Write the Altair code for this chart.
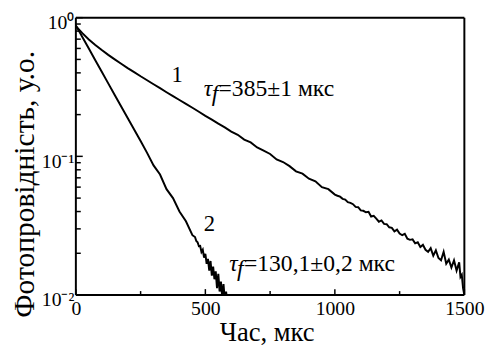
import altair as alt
import pandas as pd

# Curve 1 (tau_f = 385 us)
t1 = [0, 25, 50, 75, 100, 125, 150, 175, 200, 225, 250, 275, 300, 325, 350, 375, 400, 425, 450, 475,
      500, 525, 550, 575, 600, 625, 650, 675, 700, 725, 750, 775, 800, 825, 850, 875, 900, 925, 950, 975, 1000,
      1010, 1020, 1030, 1040, 1050, 1060, 1070, 1080, 1090, 1100, 1110, 1120, 1130, 1140, 1150, 1160, 1170,
      1180, 1190, 1200, 1210, 1220, 1230, 1240, 1250, 1260, 1270, 1280, 1290, 1300, 1310, 1320, 1330, 1340,
      1350, 1360, 1370, 1380, 1390, 1400, 1410, 1420, 1430, 1440, 1450, 1460, 1470, 1480, 1485, 1490, 1495, 1500]
v1 = [0.87, 0.774, 0.697, 0.636, 0.584, 0.539, 0.500, 0.465, 0.433, 0.405, 0.378, 0.354, 0.331, 0.310,
      0.290, 0.272, 0.255, 0.239, 0.224, 0.2097, 0.196, 0.184, 0.172, 0.1617, 0.151, 0.143, 0.132, 0.126,
      0.116, 0.110, 0.104, 0.095, 0.091, 0.085, 0.078, 0.075, 0.069, 0.066, 0.060, 0.058, 0.053,
      0.0520, 0.0512, 0.0494, 0.0488, 0.0468, 0.0462, 0.0452, 0.0432, 0.0430, 0.0408, 0.0405, 0.0395,
      0.0398, 0.0368, 0.0372, 0.0356, 0.0338, 0.0345, 0.0326, 0.0324, 0.0308, 0.0305, 0.0288, 0.0296,
      0.0278, 0.0270, 0.0276, 0.0255, 0.0250, 0.0252, 0.0236, 0.0240, 0.0222, 0.0230, 0.0212, 0.0205,
      0.0218, 0.0192, 0.0210, 0.0185, 0.0178, 0.0205, 0.0168, 0.0180, 0.0158, 0.0178, 0.0150, 0.0172,
      0.0135, 0.0140, 0.0112, 0.0100]

# Curve 2 (tau_f = 130.1 us)
t2 = [0, 25, 50, 75, 100, 125, 150, 175, 200, 225, 250, 275, 300, 325, 350, 375, 400, 425, 450,
      460, 465, 470, 475, 480, 485, 490, 495, 500, 505, 510, 515, 520, 525, 530, 535, 540, 545, 550,
      555, 560, 565, 570, 575, 580, 585, 590, 595, 600]
v2 = [0.88, 0.726, 0.599, 0.494, 0.408, 0.336, 0.277, 0.229, 0.189, 0.156, 0.129, 0.106, 0.086, 0.074,
      0.058, 0.050, 0.040, 0.034, 0.027,
      0.0262, 0.0245, 0.0240, 0.0225, 0.0226, 0.0204, 0.0212, 0.0186, 0.0198, 0.0168, 0.0182, 0.0150,
      0.0176, 0.0138, 0.0160, 0.0130, 0.0148, 0.0112, 0.0142, 0.0106, 0.0125, 0.0097, 0.0120, 0.0092,
      0.0106, 0.0088, 0.0095, 0.0085, 0.0080]

y_major = [0.01, 0.1, 1]
y_minor = [0.02, 0.03, 0.04, 0.05, 0.06, 0.07, 0.08, 0.09, 0.2, 0.3, 0.4, 0.5, 0.6, 0.7, 0.8, 0.9]
x_major = [0, 500, 1000, 1500]
x_minor = [250, 750, 1250]

curve_names = ["1", "2"]
curve_name_t = [391, 516]
curve_name_v = [0.385, 0.0324]
tau_text = ["=385±1 мкс", "=130,1±0,2 мкс"]
tau_t = [494, 592]
tau_v = [0.271, 0.0150]

W, H = 395, 282
FONT = "Liberation Serif"

df = pd.concat([
    pd.DataFrame({"t": t1, "v": v1, "s": "1"}),
    pd.DataFrame({"t": t2, "v": v2, "s": "2"}),
])

xs = alt.Scale(domain=[0, 1500], nice=False)
ys = alt.Scale(type="log", domain=[0.01, 1], nice=False)

x_axis = alt.Axis(values=x_major, format="d", ticks=False, domain=False, grid=False, labelFont=FONT,
                  labelFontSize=20, labelColor="black", labelPadding=4, labelFlush=False,
                  title="Час, мкс", titleFont=FONT, titleFontSize=27, titleFontWeight="normal",
                  titleColor="black", titleX=194, titleY=46, titleAnchor="middle",
                  titleAlign="center", titleBaseline="alphabetic")
y_axis = alt.Axis(values=y_major, ticks=False, domain=False, grid=False, labelFont=FONT,
                  labelFontSize=20, labelColor="black", labelPadding=2, labelOffset=5,
                  labelExpr="datum.value >= 0.5 ? '10⁰' : datum.value >= 0.05 ? '10⁻¹' : '10⁻²'",
                  title="Фотопровідність, у.о.", titleFont=FONT, titleFontSize=30,
                  titleFontWeight="normal", titleColor="black", titleX=-52, titleY=169,
                  titleAngle=270, titleBaseline="middle", titleAlign="center")

lines = alt.Chart(df).mark_line(color="black", strokeWidth=2, clip=True).encode(
    x=alt.X("t:Q", scale=xs, axis=x_axis),
    y=alt.Y("v:Q", scale=ys, axis=y_axis),
    detail="s:N",
)

one = pd.DataFrame({"a": [0]})
frame = alt.layer(
    alt.Chart(one).mark_rule(color="black", strokeWidth=2).encode(x=alt.value(0), x2=alt.value(W), y=alt.value(0)),
    alt.Chart(one).mark_rule(color="black", strokeWidth=2).encode(x=alt.value(0), x2=alt.value(W), y=alt.value(H)),
    alt.Chart(one).mark_rule(color="black", strokeWidth=2).encode(x=alt.value(0), y=alt.value(0), y2=alt.value(H)),
    alt.Chart(one).mark_rule(color="black", strokeWidth=2).encode(x=alt.value(W), y=alt.value(0), y2=alt.value(H)),
)

ymaj = alt.Chart(pd.DataFrame({"v": y_major})).mark_rule(color="black", strokeWidth=1.5).encode(
    y=alt.Y("v:Q", scale=ys), x=alt.value(0), x2=alt.value(7))
ymin = alt.Chart(pd.DataFrame({"v": y_minor})).mark_rule(color="black", strokeWidth=1.5).encode(
    y=alt.Y("v:Q", scale=ys), x=alt.value(0), x2=alt.value(5))
xmaj = alt.Chart(pd.DataFrame({"t": x_major})).mark_rule(color="black", strokeWidth=1.5).encode(
    x=alt.X("t:Q", scale=xs), y=alt.value(H), y2=alt.value(H - 6))
xmin = alt.Chart(pd.DataFrame({"t": x_minor})).mark_rule(color="black", strokeWidth=1.5).encode(
    x=alt.X("t:Q", scale=xs), y=alt.value(H), y2=alt.value(H - 4))

num_labels = alt.Chart(pd.DataFrame({"t": curve_name_t, "v": curve_name_v, "txt": curve_names})).mark_text(
    font=FONT, fontSize=23, color="black", align="center", baseline="middle").encode(
    x=alt.X("t:Q", scale=xs), y=alt.Y("v:Q", scale=ys), text="txt:N")

ann = pd.DataFrame({"t": tau_t, "v": tau_v, "rest": tau_text})
tau = alt.Chart(ann).mark_text(font=FONT, fontSize=24, fontStyle="italic", color="black",
                                align="left", baseline="alphabetic").encode(
    x=alt.X("t:Q", scale=xs), y=alt.Y("v:Q", scale=ys), text=alt.value("τ"))
fsub = alt.Chart(ann).mark_text(font=FONT, fontSize=24, fontStyle="italic", color="black",
                                 align="left", baseline="alphabetic", dx=8, dy=5).encode(
    x=alt.X("t:Q", scale=xs), y=alt.Y("v:Q", scale=ys), text=alt.value("f"))
rest = alt.Chart(ann).mark_text(font=FONT, fontSize=24, color="black",
                                 align="left", baseline="alphabetic", dx=15).encode(
    x=alt.X("t:Q", scale=xs), y=alt.Y("v:Q", scale=ys), text="rest:N")

chart = alt.layer(lines, ymaj, ymin, xmaj, xmin, frame, num_labels, tau, fsub, rest).properties(
    width=W, height=H,
    autosize=alt.AutoSizeParams(type="none"),
    padding={"left": 69, "top": 7, "right": 22, "bottom": 50},
).configure_view(strokeWidth=0)

chart.save("out.html", embed_options={"renderer": "svg", "actions": False})
